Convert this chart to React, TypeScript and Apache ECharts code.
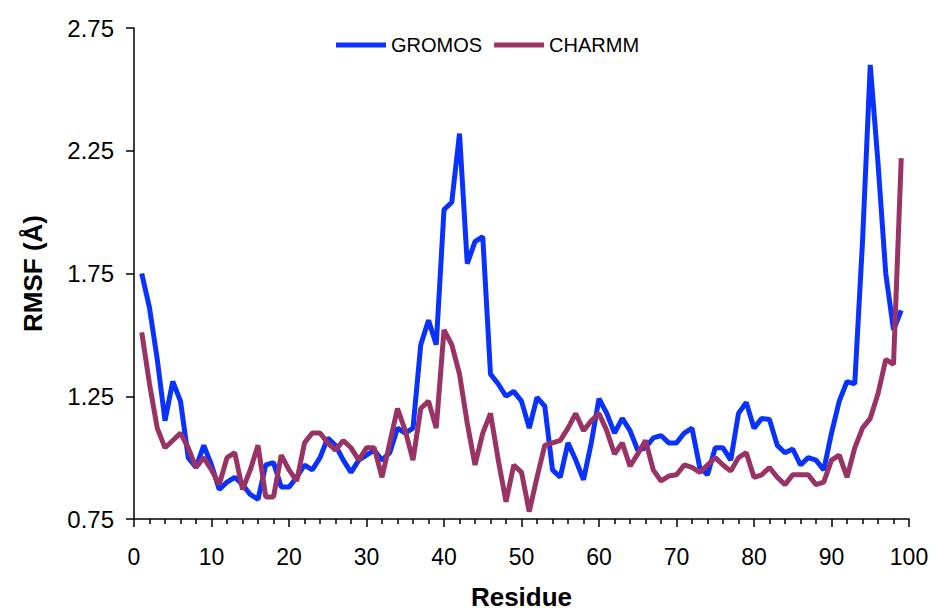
import React, { useEffect, useRef } from "react";
import * as echarts from "echarts";

const residues: number[] = Array.from({ length: 99 }, (_, i) => i + 1);

const gromos: number[] = [
  1.75, 1.61, 1.40, 1.15, 1.31, 1.23, 1.00, 0.96, 1.05, 0.97,
  0.87, 0.90, 0.92, 0.89, 0.85, 0.83, 0.97, 0.98, 0.88, 0.88,
  0.92, 0.97, 0.95, 1.00, 1.08, 1.05, 0.99, 0.94, 0.99, 1.01,
  1.03, 0.99, 1.02, 1.12, 1.10, 1.12, 1.46, 1.56, 1.46, 2.01,
  2.04, 2.32, 1.79, 1.88, 1.90, 1.34, 1.30, 1.25, 1.27, 1.23,
  1.12, 1.245, 1.21, 0.95, 0.92, 1.06, 0.99, 0.91, 1.06, 1.24,
  1.18, 1.10, 1.16, 1.11, 1.03, 1.04, 1.08, 1.09, 1.06, 1.06,
  1.10, 1.12, 0.96, 0.93, 1.04, 1.04, 0.99, 1.18, 1.225, 1.12,
  1.16, 1.155, 1.05, 1.02, 1.035, 0.97, 1.00, 0.99, 0.95, 1.10,
  1.23, 1.31, 1.30, 1.88, 2.60, 2.20, 1.75, 1.52, 1.60,
];

const charmm: number[] = [
  1.51, 1.30, 1.12, 1.04, 1.07, 1.10, 1.04, 0.96, 1.00, 0.95,
  0.89, 1.00, 1.02, 0.87, 0.95, 1.05, 0.84, 0.84, 1.01, 0.95,
  0.905, 1.06, 1.10, 1.10, 1.06, 1.03, 1.07, 1.04, 0.99, 1.04,
  1.04, 0.92, 1.06, 1.20, 1.11, 0.99, 1.20, 1.23, 1.12, 1.52,
  1.46, 1.34, 1.14, 0.97, 1.10, 1.18, 0.99, 0.82, 0.97, 0.94,
  0.78, 0.92, 1.05, 1.06, 1.07, 1.12, 1.18, 1.11, 1.15, 1.18,
  1.11, 1.015, 1.06, 0.965, 1.015, 1.07, 0.95, 0.905, 0.925, 0.93,
  0.97, 0.96, 0.94, 0.97, 1.00, 0.97, 0.945, 1.00, 1.02, 0.92,
  0.93, 0.96, 0.92, 0.89, 0.93, 0.93, 0.93, 0.89, 0.90, 0.99,
  1.01, 0.92, 1.04, 1.12, 1.16, 1.26, 1.40, 1.38, 2.22,
];

const yTicks: number[] = [0.75, 1.25, 1.75, 2.25, 2.75];
const seriesNames: string[] = ["GROMOS", "CHARMM"];
const seriesColors: string[] = ["#0a32ff", "#993366"];

const FONT = "'Liberation Sans', Arial, sans-serif";

export default function App() {
  const ref = useRef<HTMLDivElement>(null);

  useEffect(() => {
    if (!ref.current) return;
    const chart = echarts.init(ref.current, undefined, { renderer: "svg" });
    const seriesData = [gromos, charmm];
    chart.setOption({
      animation: false,
      backgroundColor: "#ffffff",
      grid: {
        left: 126,
        right: 20,
        top: 20,
        bottom: 94,
        containLabel: false,
        outerBoundsMode: "none",
      },
      legend: {
        left: 328,
        top: 27,
        padding: 0,
        icon: "rect",
        itemWidth: 50,
        itemHeight: 5,
        itemGap: 12,
        data: seriesNames,
        textStyle: { fontFamily: FONT, fontSize: 20, color: "#000" },
      },
      xAxis: {
        type: "value",
        min: 0,
        max: 100,
        interval: 10,
        name: "Residue",
        nameLocation: "middle",
        nameGap: 65,
        nameTextStyle: { fontFamily: FONT, fontSize: 26, fontWeight: "bold", color: "#000" },
        axisLine: { show: true, lineStyle: { color: "#000", width: 1.5 } },
        axisTick: { show: true, length: 8, lineStyle: { color: "#000", width: 1.5 } },
        minorTick: { show: true, splitNumber: 5, length: 5, lineStyle: { color: "#000", width: 1.5 } },
        splitLine: { show: false },
        minorSplitLine: { show: false },
        axisLabel: { fontFamily: FONT, fontSize: 23, color: "#000", margin: 26 },
      },
      yAxis: {
        type: "value",
        min: 0.75,
        max: 2.75,
        name: "RMSF (Å)",
        nameLocation: "middle",
        nameGap: 88,
        nameTextStyle: { fontFamily: FONT, fontSize: 26, fontWeight: "bold", color: "#000" },
        axisLine: { show: true, lineStyle: { color: "#000", width: 1.5 } },
        axisTick: {
          show: true,
          length: 8,
          customValues: yTicks,
          lineStyle: { color: "#000", width: 1.5 },
        },
        splitLine: { show: false },
        axisLabel: {
          fontFamily: FONT,
          fontSize: 24,
          color: "#000",
          margin: 20,
          customValues: yTicks,
          formatter: (v: number) => v.toFixed(2),
        },
      },
      series: seriesNames.map((name, k) => ({
        name,
        type: "line",
        symbol: "none",
        color: seriesColors[k],
        itemStyle: { color: seriesColors[k] },
        lineStyle: { color: seriesColors[k], width: 5 },
        data: residues.map((r, i) => [r, seriesData[k][i]]),
      })),
    });
    return () => chart.dispose();
  }, []);

  return <div ref={ref} style={{ width: 921, height: 605 }} />;
}
